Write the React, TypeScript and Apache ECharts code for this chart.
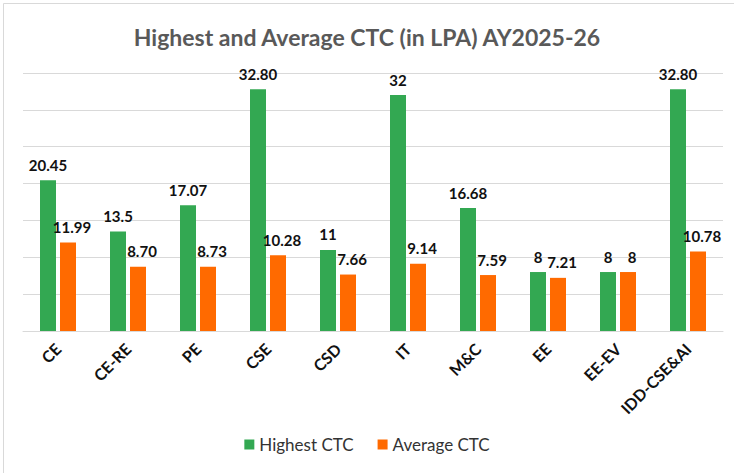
import React, { useEffect, useRef } from "react";
import * as echarts from "echarts";

const categories = ["CE", "CE-RE", "PE", "CSE", "CSD", "IT", "M&C", "EE", "EE-EV", "IDD-CSE&AI"];
const highestCTC = [20.45, 13.5, 17.07, 32.8, 11, 32, 16.68, 8, 8, 32.8];
const highestLabels = ["20.45", "13.5", "17.07", "32.80", "11", "32", "16.68", "8", "8", "32.80"];
const averageCTC = [11.99, 8.7, 8.73, 10.28, 7.66, 9.14, 7.59, 7.21, 8, 10.78];
const averageLabels = ["11.99", "8.70", "8.73", "10.28", "7.66", "9.14", "7.59", "7.21", "8", "10.78"];

export default function App() {
  const ref = useRef<HTMLDivElement>(null);
  useEffect(() => {
    if (!ref.current) return;
    const chart = echarts.init(ref.current, null, { renderer: "svg" });
    const labelStyle = {
      show: true,
      position: "top" as const,
      distance: 8,
      fontFamily: "Lato",
      fontWeight: "bold" as const,
      fontSize: 15,
      color: "#111",
    };
    chart.setOption({
      animation: false,
      backgroundColor: "#fff",
      title: {
        text: "Highest and Average CTC (in LPA) AY2025-26",
        left: "center",
        top: 20,
        textStyle: { fontFamily: "Lato", fontWeight: "bold", fontSize: 23, color: "#595959" },
      },
      graphic: [
        { type: "line", shape: { x1: 3.5, y1: 3.5, x2: 3.5, y2: 473 }, style: { stroke: "#d9d9d9", lineWidth: 1 } },
        { type: "line", shape: { x1: 3.5, y1: 3.5, x2: 734, y2: 3.5 }, style: { stroke: "#d9d9d9", lineWidth: 1 } },
      ],
      grid: { left: 23, right: 11, top: 73, bottom: 142, containLabel: false },
      legend: {
        bottom: 15,
        left: "center",
        itemWidth: 10,
        itemHeight: 10,
        itemGap: 24,
        icon: "rect",
        textStyle: { fontFamily: "Lato", fontSize: 17, color: "#333" },
        data: ["Highest CTC", "Average CTC"],
      },
      xAxis: {
        type: "category",
        data: categories,
        axisLine: { lineStyle: { color: "#d9d9d9", width: 1 } },
        axisTick: { show: false },
        axisLabel: {
          rotate: 45,
          interval: 0,
          margin: 15,
          fontFamily: "Lato",
          fontWeight: "bold",
          fontSize: 16,
          color: "#111",
        },
      },
      yAxis: {
        type: "value",
        min: 0,
        max: 35,
        interval: 5,
        axisLabel: { show: false },
        axisLine: { show: false },
        axisTick: { show: false },
        splitLine: { lineStyle: { color: "#d9d9d9", width: 1 } },
      },
      series: [
        {
          name: "Highest CTC",
          type: "bar",
          data: highestCTC,
          barWidth: 16,
          barGap: "25%",
          itemStyle: { color: "#33a852" },
          label: { ...labelStyle, formatter: (p: any) => highestLabels[p.dataIndex] },
        },
        {
          name: "Average CTC",
          type: "bar",
          data: averageCTC,
          barWidth: 16,
          itemStyle: { color: "#ff6a00" },
          label: { ...labelStyle, offset: [4, 0], formatter: (p: any) => averageLabels[p.dataIndex] },
        },
      ],
    });
    return () => chart.dispose();
  }, []);
  return <div ref={ref} style={{ width: 734, height: 473, position: "absolute", left: 0, top: 0 }} />;
}
